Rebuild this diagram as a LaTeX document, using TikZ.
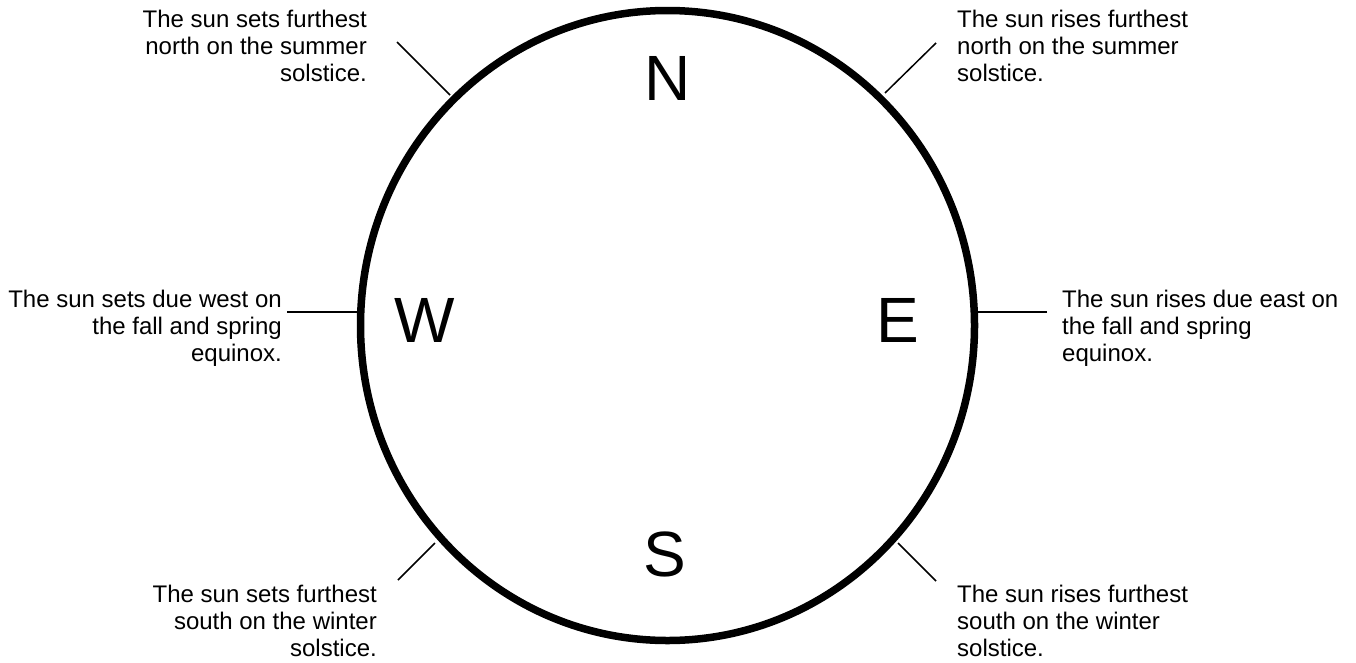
\documentclass[tikz,border=0pt]{standalone}
\usepackage{fontspec}
\setmainfont{Liberation Sans}
\begin{document}
\begin{tikzpicture}[x=1pt,y=-1pt,
  note/.style={inner sep=0pt,font=\fontsize{24}{27.2}\selectfont},
  notel/.style={note,anchor=north east,align=right},
  noter/.style={note,anchor=north west,align=left},
  dir/.style={inner sep=0pt,anchor=base,font=\fontsize{64}{70}\selectfont},
  tick/.style={line width=1.5pt}]
\useasboundingbox (0,0) rectangle (1356,662);
\draw[line width=7.5pt] (667.5,325.5) ellipse [x radius=307, y radius=315];
\node[dir] (N) at (668,100) {N};
\node[dir] (S) at (665,576) {S};
\node[dir] (W) at (425,342) {W};
\node[dir] (E) at (898,342) {E};
\node[notel] (tnw) at (367,9.5) {The sun sets furthest\\north on the summer\\solstice.};
\node[notel] (tw) at (282,289.5) {The sun sets due west on\\the fall and spring\\equinox.};
\node[notel] (tsw) at (377,584.5) {The sun sets furthest\\south on the winter\\solstice.};
\node[noter] (tne) at (957,9.5) {The sun rises furthest\\north on the summer\\solstice.};
\node[noter] (te) at (1062,289.5) {The sun rises due east on\\the fall and spring\\equinox.};
\node[noter] (tse) at (957,584.5) {The sun rises furthest\\south on the winter\\solstice.};
\coordinate (nw1) at (397,42); \coordinate (nw2) at (450,95);
\coordinate (ne1) at (936,43); \coordinate (ne2) at (885,93);
\coordinate (sw1) at (398,580); \coordinate (sw2) at (435,543);
\coordinate (se1) at (936,581); \coordinate (se2) at (898,543);
\coordinate (w1) at (287,312); \coordinate (w2) at (358,312);
\coordinate (e1) at (1047,312); \coordinate (e2) at (977,312);
\draw[tick] (nw1) -- (nw2);
\draw[tick] (ne1) -- (ne2);
\draw[tick] (sw1) -- (sw2);
\draw[tick] (se1) -- (se2);
\draw[tick] (w1) -- (w2);
\draw[tick] (e1) -- (e2);
\end{tikzpicture}
\end{document}
